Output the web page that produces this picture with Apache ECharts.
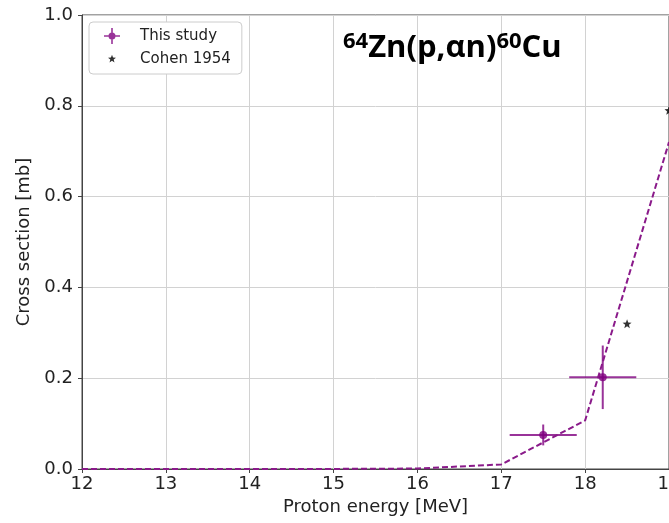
<!DOCTYPE html>
<html>
<head>
<meta charset="utf-8">
<script src="https://cdn.jsdelivr.net/npm/echarts@6/dist/echarts.min.js"></script>
<style>
  html, body { margin: 0; padding: 0; background: #fff; }
  #chart { width: 669px; height: 523px; }
</style>
</head>
<body>
<div id="chart"></div>
<script>
// Excitation function of 64Zn(p,an)60Cu

// Proton energies of the model curve [MeV] and its cross sections [mb]
const curveEnergy = [12, 13, 14, 15, 16, 17, 18, 19];
const curveXs     = [0.0, 0.0, 0.0, 0.0002, 0.001, 0.01, 0.107, 0.72];

// This study: energy, cross section, and their uncertainties
const studyEnergy    = [17.5, 18.21];
const studyXs        = [0.075, 0.202];
const studyEnergyErr = [0.4, 0.4];
const studyXsErr     = [0.023, 0.07];

// Cohen 1954
const cohenEnergy = [18.5, 19.0];
const cohenXs     = [0.32, 0.79];

// Axis ticks
const xTicks = [12, 13, 14, 15, 16, 17, 18, 19];
const yTicks = [0.0, 0.2, 0.4, 0.6, 0.8, 1.0];

const PURPLE = '#800080';
const FONT = 'DejaVu Sans';
const TITLE_FONT = 'Open Sans';

// Five-pointed star path centred on (cx, cy)
function starPath(cx, cy, ro, ri) {
  let d = '';
  for (let i = 0; i < 10; i++) {
    const r = i % 2 === 0 ? ro : ri;
    const a = -Math.PI / 2 + i * Math.PI / 5;
    const x = (cx + r * Math.cos(a)).toFixed(2);
    const y = (cy + r * Math.sin(a)).toFixed(2);
    d += (i === 0 ? 'M' : 'L') + x + ',' + y;
  }
  return d + 'Z';
}

// Legend icons drawn inside a 34x20 box so the text lines up
const boxCorners = 'M0,0Z M34,20Z ';
const crossIcon = 'path://' + boxCorners +
  'M3,9.2L19,9.2L19,10.8L3,10.8Z ' +
  'M10.2,2L11.8,2L11.8,18L10.2,18Z ' +
  'M14.5,10A3.5,3.5 0 1 1 7.5,10A3.5,3.5 0 1 1 14.5,10Z';
const starIcon = 'path://' + boxCorners + starPath(11, 10, 4.2, 1.8);
const starSymbol = 'path://' + starPath(10, 10, 10, 4.2);

const studyData = studyEnergy.map((e, i) => [e, studyXs[i], studyEnergyErr[i], studyXsErr[i]]);

const chart = echarts.init(document.getElementById('chart'), null, { renderer: 'canvas' });

chart.setOption({
  animation: false,
  backgroundColor: '#fff',
  title: {
    text: '{s|64}{m|Zn(p,αn)}{s|60}{m|Cu}',
    left: 338,
    top: 26,
    padding: 5,
    textStyle: {
      rich: {
        m: { fontFamily: TITLE_FONT, fontWeight: 'bold', fontSize: 31, color: '#000', lineHeight: 35 },
        s: { fontFamily: TITLE_FONT, fontWeight: 'bold', fontSize: 22, color: '#000', lineHeight: 24, verticalAlign: 'top' }
      }
    }
  },
  legend: {
    orient: 'vertical',
    left: 89,
    top: 22,
    padding: [4, 11, 5, 12],
    itemWidth: 34,
    itemHeight: 20,
    itemGap: 3,
    backgroundColor: '#fff',
    borderColor: '#cccccc',
    borderWidth: 1,
    borderRadius: 4,
    textStyle: { fontFamily: FONT, fontSize: 15, color: '#222' },
    data: [
      { name: 'This study', icon: crossIcon, itemStyle: { color: PURPLE } },
      { name: 'Cohen 1954', icon: starIcon, itemStyle: { color: '#000' } }
    ]
  },
  grid: {
    left: 82, top: 15, right: 0, bottom: 54,
    outerBoundsMode: 'none',
    containLabel: false,
    show: true, borderColor: '#444', borderWidth: 1, backgroundColor: 'transparent'
  },
  xAxis: {
    type: 'value',
    min: xTicks[0],
    max: xTicks[xTicks.length - 1],
    interval: 1,
    name: 'Proton energy [MeV]',
    nameLocation: 'middle',
    nameGap: 29,
    nameTextStyle: { fontFamily: FONT, fontSize: 18, color: '#222' },
    axisLine: { show: true, lineStyle: { color: '#444', width: 1 } },
    axisTick: { show: true, inside: false, length: 4, lineStyle: { color: '#444' } },
    axisLabel: { fontFamily: FONT, fontSize: 18, color: '#222', margin: 6, hideOverlap: false },
    splitLine: { show: true, lineStyle: { color: '#d2d2d2', width: 1 } }
  },
  yAxis: {
    type: 'value',
    min: yTicks[0],
    max: yTicks[yTicks.length - 1],
    interval: 0.2,
    name: 'Cross section [mb]',
    nameLocation: 'middle',
    nameGap: 41,
    nameTextStyle: { fontFamily: FONT, fontSize: 18, color: '#222' },
    axisLine: { show: true, lineStyle: { color: '#444', width: 1 } },
    axisTick: { show: true, inside: false, length: 4, lineStyle: { color: '#444' } },
    axisLabel: { fontFamily: FONT, fontSize: 18, color: '#222', margin: 9, formatter: v => v.toFixed(1) },
    splitLine: { show: true, lineStyle: { color: '#d2d2d2', width: 1 } }
  },
  series: [
    {
      name: 'curve',
      type: 'line',
      data: curveEnergy.map((e, i) => [e, curveXs[i]]),
      showSymbol: false,
      symbol: 'none',
      lineStyle: { color: '#8a1a8a', width: 2, type: [6, 3] },
      z: 3
    },
    {
      name: 'errors',
      type: 'custom',
      data: studyData,
      renderItem: function (params, api) {
        const x = api.value(0), y = api.value(1), ex = api.value(2), ey = api.value(3);
        const l = api.coord([x - ex, y]);
        const r = api.coord([x + ex, y]);
        const t = api.coord([x, y + ey]);
        const b = api.coord([x, y - ey]);
        const style = { stroke: 'rgba(128,0,128,0.8)', lineWidth: 2 };
        return {
          type: 'group',
          children: [
            { type: 'line', shape: { x1: l[0], y1: l[1], x2: r[0], y2: r[1] }, style: style },
            { type: 'line', shape: { x1: t[0], y1: t[1], x2: b[0], y2: b[1] }, style: style }
          ]
        };
      },
      z: 2
    },
    {
      name: 'This study',
      type: 'scatter',
      data: studyEnergy.map((e, i) => [e, studyXs[i]]),
      symbol: 'circle',
      symbolSize: 8,
      itemStyle: { color: PURPLE },
      z: 4
    },
    {
      name: 'Cohen 1954',
      type: 'scatter',
      data: cohenEnergy.map((e, i) => [e, cohenXs[i]]),
      symbol: starSymbol,
      symbolSize: 9,
      itemStyle: { color: '#000' },
      z: 4
    }
  ]
});
</script>
</body>
</html>
